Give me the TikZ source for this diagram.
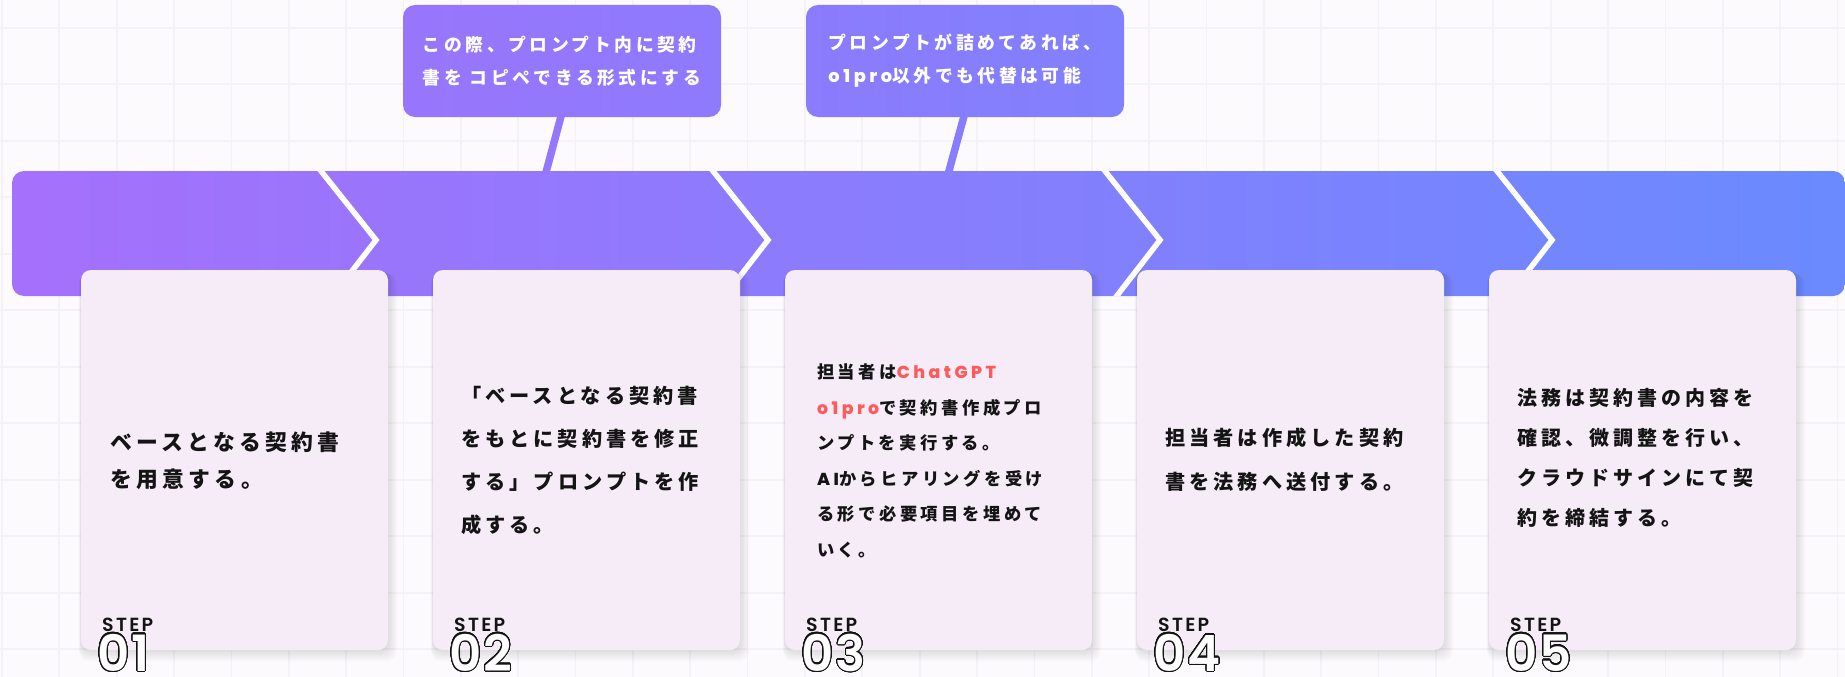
\documentclass[tikz,border=0pt]{standalone}
\usepackage{fontspec}
\usepackage{contour}
\usetikzlibrary{calc}
\setmainfont{Poppins}
\newfontfamily\jpfont{Noto Sans CJK JP}[LetterSpace=20]
\IfFontExistsTF{Poppins SemiBold}
  {\newfontfamily\stepfont{Poppins SemiBold}[LetterSpace=12]
   \newfontfamily\numfont{Poppins SemiBold}[LetterSpace=4]}
  {\newfontfamily\stepfont{Poppins Bold}[LetterSpace=12]
   \newfontfamily\numfont{Poppins Bold}[LetterSpace=4]}
\IfFontExistsTF{Poppins Medium}
  {\newfontfamily\popfont{Poppins Medium}[LetterSpace=20]}
  {\newfontfamily\popfont{Poppins Bold}[LetterSpace=20]}
\definecolor{bgc}{HTML}{FCFAFD}
\definecolor{gridc}{HTML}{F4F2F6}
\definecolor{bannerL}{HTML}{A570FC}
\definecolor{bannerR}{HTML}{6A8AFE}
\definecolor{cardc}{HTML}{F5ECF8}
\definecolor{accent}{HTML}{FF5A5A}
\definecolor{inkc}{HTML}{141414}
\definecolor{coneL}{RGB}{152,118,252}
\definecolor{coneR}{RGB}{142,122,253}
\definecolor{ctwoL}{RGB}{139,123,253}
\definecolor{ctwoR}{RGB}{129,128,253}
\definecolor{tailone}{HTML}{9478FC}
\definecolor{tailtwo}{HTML}{877DFD}
\contourlength{1.1pt}
\contournumber{32}
\pgfdeclarelayer{bglayer}
\pgfdeclarelayer{taillayer}
\pgfsetlayers{bglayer,taillayer,main}
\tikzset{
  gridline/.style={draw=gridc, line width=1.7pt},
  banner/.style={rounded corners=12pt, left color=bannerL, right color=bannerR, draw=none,
     minimum width=1833pt, minimum height=125pt, inner sep=0pt},
  chev/.style={draw=white, line width=5.5pt, line join=miter},
  callout/.style={rounded corners=12pt, draw=none, text=white, align=left, inner sep=0pt,
     minimum width=318pt, minimum height=112pt,
     font=\jpfont\bfseries\fontsize{17.8}{33}\selectfont},
  tailline/.style={line width=7.5pt},
  card/.style={fill=cardc, rounded corners=10pt, minimum width=307pt, minimum height=380pt, inner sep=0pt},
  cardshadow/.style={fill=black, opacity=0.015},
  cardtext/.style={align=left, inner sep=0pt, text=inkc, anchor=west},
  steplbl/.style={inner sep=0pt, text=inkc, anchor=base west, font=\stepfont\fontsize{19}{19}\selectfont},
  numlbl/.style={inner sep=0pt, anchor=base west, text depth=0pt, font=\numfont\fontsize{50}{50}\selectfont},
}
\begin{document}
\begin{tikzpicture}[x=1pt, y=-1pt]
\useasboundingbox (0,0) rectangle (1845,677);
\begin{pgfonlayer}{bglayer}
\fill[bgc] (0,0) rectangle (1845,677);
\foreach \i [evaluate=\i as \gx using 1.94+57.36*\i] in {0,...,32}
  \draw[gridline] (\gx,0) -- (\gx,677);
\foreach \j [evaluate=\j as \gy using 27.7+56.5*\j] in {0,...,11}
  \draw[gridline] (0,\gy) -- (1845,\gy);
\end{pgfonlayer}

% callouts
\node[callout, left color=coneL, right color=coneR] (c1) at (562,61)
  {この際、プロンプト内に契約\\書を コピペできる形式にする};
\node[callout, left color=ctwoL, right color=ctwoR] (c2) at (965,61)
  {プロンプトが詰めてあれば、\\{\popfont o1pro}以外でも代替は可能};
\coordinate (b1) at (545,176);
\coordinate (b2) at (947.6,176);
\begin{pgfonlayer}{taillayer}
\draw[tailline, draw=tailone] ($(c1.south)+(2,-12)$) -- (b1);
\draw[tailline, draw=tailtwo] ($(c2.south)+(2,-12)$) -- (b2);
\end{pgfonlayer}

% banner
\node[banner] (bar) at (928.5,233.5) {};
\begin{scope}
  \clip[rounded corners=12pt] (12,171) rectangle (1845,296);
  \foreach \t in {376,768,1160,1552}
    \draw[chev] (\t-63,161) -- (\t,240) -- (\t-51,306);
\end{scope}

% cards
\foreach \L [count=\k] in {81,433,785,1137,1489} {
  \foreach \d in {1,...,7}
    \fill[cardshadow, rounded corners=10pt] (\L-0.3*\d,270+0.5*\d) rectangle (\L+307+1.3*\d,650+1.6*\d);
  \node[card] (s\k) at (\L+153.5,460) {};
}

% card texts
\node[cardtext, font=\jpfont\bfseries\fontsize{21.8}{37}\selectfont] (t1) at (110,461)
  {ベースとなる契約書\\を用意する。};
\node[cardtext, font=\jpfont\bfseries\fontsize{20.2}{43}\selectfont] (t2) at (461,460)
  {「ベースとなる契約書\\をもとに契約書を修正\\する」プロンプトを作\\成する。};
\node[cardtext, font=\jpfont\bfseries\fontsize{17.3}{35.5}\selectfont] (t3) at (817,461)
  {担当者は{\popfont\color{accent}ChatGPT}\\{\popfont\color{accent}o1pro}で契約書作成プロ\\ンプトを実行する。\\{\popfont AI}からヒアリングを受け\\る形で必要項目を埋めて\\いく。};
\node[cardtext, font=\jpfont\bfseries\fontsize{20.2}{44}\selectfont] (t4) at (1165,460)
  {担当者は作成した契約\\書を法務へ送付する。};
\node[cardtext, font=\jpfont\bfseries\fontsize{20}{40}\selectfont] (t5) at (1517,458)
  {法務は契約書の内容を\\確認、微調整を行い、\\クラウドサインにて契\\約を締結する。};

% STEP labels and numbers
\foreach \L [count=\k] in {81,433,785,1137,1489} {
  \node[steplbl] (st\k) at (\L+21,631) {STEP};
  \node[numlbl] (n\k) at (\L+16,671) {\contour{inkc}{\textcolor{white}{0\k}}};
}
\end{tikzpicture}
\end{document}
